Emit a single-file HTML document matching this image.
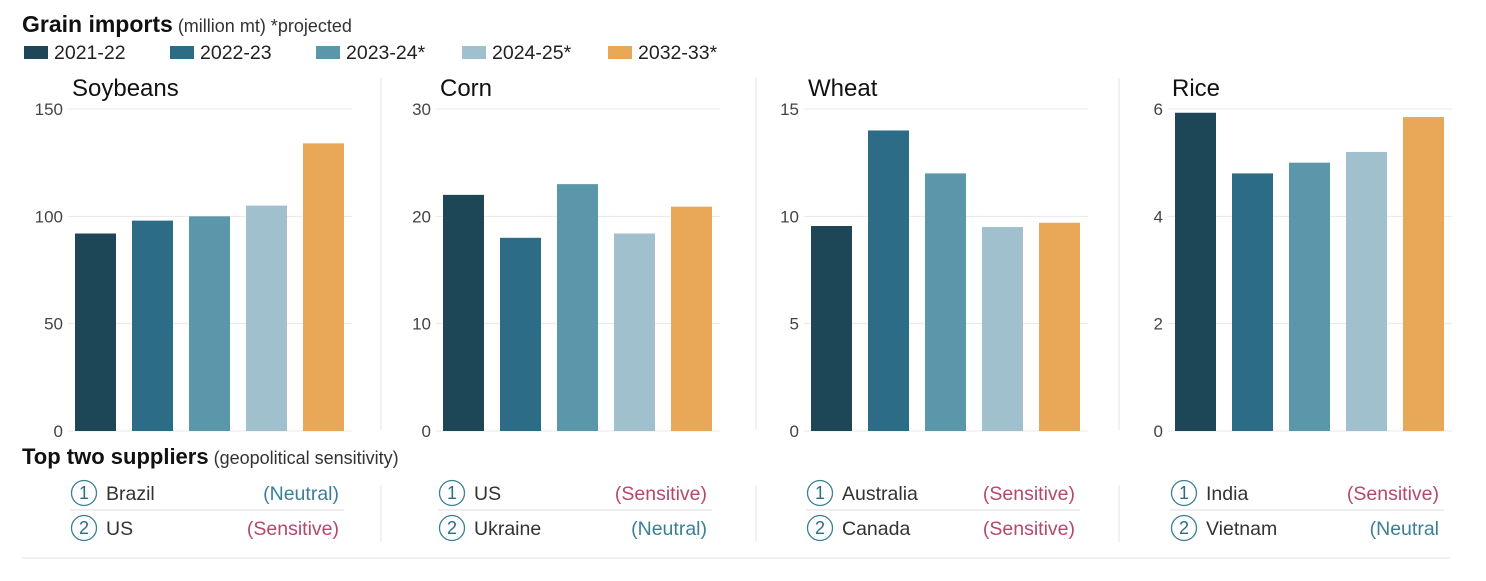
<!DOCTYPE html>
<html><head><meta charset="utf-8"><style>
body{margin:0;background:#fff;font-family:"Liberation Sans",sans-serif;}
svg text{font-family:"Liberation Sans",sans-serif;}
</style></head><body>
<svg id="c" width="1486" height="576">
<text x="22" y="32" font-size="23" fill="#111"><tspan font-weight="bold">Grain imports</tspan><tspan font-size="18" fill="#333"> (million mt) *projected</tspan></text>
<g id="legend"></g>
<g id="panels"></g>
<text x="22" y="464" font-size="22" fill="#111"><tspan font-weight="bold">Top two suppliers</tspan><tspan font-size="18" fill="#333"> (geopolitical sensitivity)</tspan></text>
<line x1="22" y1="558" x2="1450" y2="558" stroke="#e2e2e2"/>
</svg>
<script>
const years = ["2021-22","2022-23","2023-24*","2024-25*","2032-33*"];
const colors = ["#1d4657","#2c6c87","#5b97aa","#9fc0cc","#e8a857"];
const crops = ["Soybeans","Corn","Wheat","Rice"];
const soybeans = [92,98,100,105,134];
const corn = [22,18,23,18.4,20.9];
const wheat = [9.55,14,12,9.5,9.7];
const rice = [5.93,4.8,5.0,5.2,5.85];
const maxima = [150,30,15,6];
const tickSteps = [50,10,5,2];
const suppliers = [["Brazil","US"],["US","Ukraine"],["Australia","Canada"],["India","Vietnam"]];
const sensitivity = [["(Neutral)","(Sensitive)"],["(Sensitive)","(Neutral)"],["(Sensitive)","(Sensitive)"],["(Sensitive)","(Neutral"]];
const series = [soybeans,corn,wheat,rice];
const NS="http://www.w3.org/2000/svg";
function mk(tag,attrs,parent,text){const e=document.createElementNS(NS,tag);for(const k in attrs)e.setAttribute(k,attrs[k]);if(text!==undefined)e.textContent=text;parent.appendChild(e);return e;}
const leg=document.getElementById('legend');
const legX=[24,170,316,462,608];
years.forEach((y,i)=>{
  const g=mk('g',{},leg);
  
  
  mk('rect',{x:legX[i],y:46,width:24,height:13,fill:colors[i]},g);
  mk('text',{x:legX[i]+30,y:59,'font-size':19.5,fill:'#222'},g,y);
});
const panels=document.getElementById('panels');
const gx=[68,436,804,1168], dividers=[null,381,756,1119];
const y0=431,yTop=109;
crops.forEach((c,p)=>{
  const g=mk('g',{},panels);
  
  
  const x0=gx[p], w=284;
  const ys=v=>y0-(v/maxima[p])*(y0-yTop);
  if(dividers[p]){
    const d=mk('line',{x1:dividers[p],y1:78,x2:dividers[p],y2:430,stroke:'#e6e6e6'},g);
    
    
    const d2=mk('line',{x1:dividers[p],y1:485,x2:dividers[p],y2:542,stroke:'#e6e6e6'},g);
    
    
  }
  const t=mk('text',{x:x0+4,y:96,'font-size':24,fill:'#111'},g,c);
  
  
  for(let v=0;v<=maxima[p];v+=tickSteps[p]){
    const l=mk('line',{x1:x0,y1:ys(v),x2:x0+w,y2:ys(v),stroke:'#e8e8e8'},g);
    
    
    const tl=mk('text',{x:x0-5,y:ys(v)+6,'font-size':17,fill:'#444','text-anchor':'end'},g,String(v));
    
    
  }
  series[p].forEach((v,i)=>{
    const b=mk('rect',{x:x0+7+i*57,y:ys(v),width:41,height:y0-ys(v),fill:colors[i]},g);
    
    
  });
  const sx=x0+2;
  [0,1].forEach(r=>{
    const cy=r===0?493:528;
    const row=mk('g',{},g);
    
    
    mk('circle',{cx:sx+14,cy:cy,r:12.5,fill:'none',stroke:'#3a7f95','stroke-width':1.3},row);
    mk('text',{x:sx+14,y:cy+6,'font-size':18,fill:'#2c6c87','text-anchor':'middle'},row,String(r+1));
    mk('text',{x:sx+36,y:cy+7,'font-size':19.5,fill:'#333'},row,suppliers[p][r]);
    const s=sensitivity[p][r];
    mk('text',{x:x0+271,y:cy+7,'font-size':19.5,fill:s.indexOf('Sens')>=0?'#b5476e':'#3a7f95','text-anchor':'end'},row,s);
  });
  const sep=mk('line',{x1:sx,y1:510,x2:x0+276,y2:510,stroke:'#e8e8e8','stroke-width':1.5},g);
  
  
});
</script>
</body></html>
